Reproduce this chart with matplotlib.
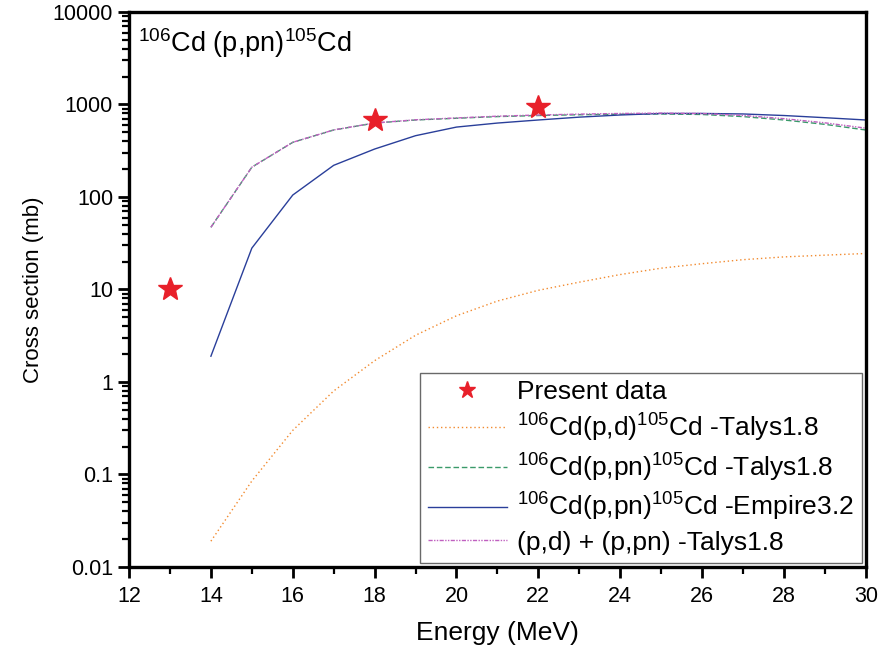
import matplotlib.pyplot as plt
import numpy as np
from matplotlib.ticker import LogLocator, FixedLocator, FuncFormatter, NullFormatter

plt.rcParams['font.family'] = ['Liberation Sans', 'DejaVu Sans']
plt.rcParams['mathtext.fontset'] = 'custom'
plt.rcParams['mathtext.rm'] = 'Liberation Sans'
plt.rcParams['mathtext.default'] = 'regular'

exp_energy = [13, 18, 22]
exp_xs = [10, 680, 950]

energy = [14, 15, 16, 17, 18, 19, 20, 21, 22, 23, 24, 25, 26, 27, 28, 29, 30]
talys_pd = [0.019, 0.085, 0.3, 0.8, 1.7, 3.2, 5.2, 7.5, 9.8, 12, 14.5, 17, 19, 21, 22.5, 23.5, 24.5]
talys_pn = [47, 210, 390, 530, 630, 680, 710, 740, 760, 775, 785, 790, 780, 740, 680, 610, 530]
empire_pn = [1.9, 28, 105, 220, 330, 460, 570, 630, 680, 730, 770, 800, 800, 790, 760, 720, 680]
talys_sum = [p + d for p, d in zip(talys_pn, talys_pd)]

fig = plt.figure(figsize=(8.79, 6.52), dpi=100)
ax = fig.add_axes([0.1468, 0.1304, 0.8382, 0.8512])

ax.plot(exp_energy, exp_xs, linestyle='none', marker='*', color='#e8202a',
        markersize=18, label='Present data', zorder=5)
ax.plot(energy, talys_pd, linestyle=(0, (1, 2)), color='#f28a2e', lw=1.0,
        label=r'$^{106}$Cd(p,d)$^{105}$Cd -Talys1.8')
ax.plot(energy, talys_pn, linestyle=(0, (4, 2)), color='#3a9a6a', lw=1.0,
        label=r'$^{106}$Cd(p,pn)$^{105}$Cd -Talys1.8')
ax.plot(energy, empire_pn, linestyle='-', color='#2a3f9a', lw=1.0,
        label=r'$^{106}$Cd(p,pn)$^{105}$Cd -Empire3.2')
ax.plot(energy, talys_sum, linestyle=(0, (3, 1, 1, 1, 1, 1)), color='#c060c0', lw=1.0,
        label='(p,d) + (p,pn) -Talys1.8')

ax.set_yscale('log')
ax.set_xlim(12, 30)
ax.set_ylim(0.01, 10000)
ax.set_xticks(range(12, 31, 2))
ax.xaxis.set_minor_locator(FixedLocator(range(13, 30, 2)))
ax.yaxis.set_major_locator(LogLocator(base=10, numticks=10))
ax.yaxis.set_minor_locator(LogLocator(base=10, subs=np.arange(2, 10), numticks=20))
ax.yaxis.set_major_formatter(FuncFormatter(lambda v, p: f'{v:g}'))
ax.yaxis.set_minor_formatter(NullFormatter())
ax.xaxis.set_minor_formatter(NullFormatter())

for s in ['left', 'bottom', 'top', 'right']:
    ax.spines[s].set_linewidth(2.4)

ax.tick_params(axis='both', which='major', direction='out', length=8, width=2.0,
               labelsize=15.5)
ax.tick_params(axis='both', which='minor', direction='out', length=5, width=1.6)
ax.tick_params(axis='x', pad=6)

ax.set_xlabel('Energy (MeV)', fontsize=19, labelpad=10)
ax.set_ylabel('Cross section (mb)', fontsize=16, labelpad=6)

ax.text(0.012, 0.975, r'$^{106}$Cd (p,pn)$^{105}$Cd', transform=ax.transAxes,
        fontsize=19.5, va='top', ha='left')

leg = ax.legend(loc='lower right', fontsize=19, frameon=True, fancybox=False,
                edgecolor='#444444', handlelength=3.0, borderpad=0.3,
                labelspacing=0.28, handletextpad=0.4, markerscale=0.7,
                borderaxespad=0, bbox_to_anchor=(0.995, 0.008))
leg.get_frame().set_linewidth(1.0)

fig.savefig('out.png', dpi=100)
